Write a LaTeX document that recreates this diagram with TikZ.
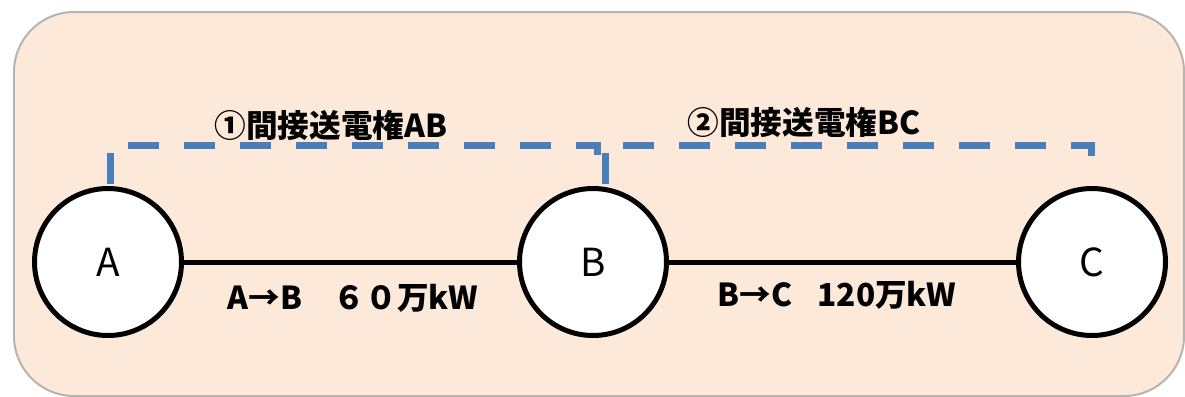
\documentclass[tikz,border=0pt]{standalone}
\usepackage{fontspec}
\setmainfont{Noto Sans CJK JP}
\usetikzlibrary{calc}
\definecolor{panel}{RGB}{253,233,218}
\definecolor{edge}{RGB}{180,180,180}
\definecolor{route}{RGB}{74,126,187}
\tikzset{
  station/.style={circle,draw=black,fill=white,line width=0.1cm,minimum size=2.94cm,inner sep=0pt,font=\fontsize{22}{22}\selectfont},
  link/.style={line width=0.1cm,black},
  bracket/.style={route,line width=0.14cm,dash pattern=on 0.62cm off 0.5cm},
  tag/.style={font=\fontsize{18}{18}\selectfont\bfseries}
}
\begin{document}
\begin{tikzpicture}[x=0.02cm,y=-0.02cm]
  \useasboundingbox (0,0) rectangle (1185,396);
  \draw[edge,fill=panel,line width=0.04cm,rounded corners=1.2cm] (14,12) rectangle (1184,396);
  \node[station] (A) at (108,262) {A};
  \node[station] (B) at (593,262) {B};
  \node[station] (C) at (1092,262) {C};
  \draw[link] (A) -- (B);
  \draw[link] (B) -- (C);
  % brackets over the two routes
  \draw[bracket] ($(A.north)+(2,-2.5)$) -- ++(0,-38) -| ($(B.north)+(4,-28)$);
  \draw[bracket] ($(B.north)+(12,-2.5)$) -- ++(0,-38) -| ($(C.north)+(-1,-28)$);
  \node[tag] (ab) at (331,125) {①間接送電権AB};
  \node[tag] (bc) at (804,122) {②間接送電権BC};
  \node[tag] (abflow) at (353,298) {A→B　６０万kW};
  \node[tag] (bcflow) at (837,295) {B→C\hspace{0.8em}120万kW};
\end{tikzpicture}
\end{document}
